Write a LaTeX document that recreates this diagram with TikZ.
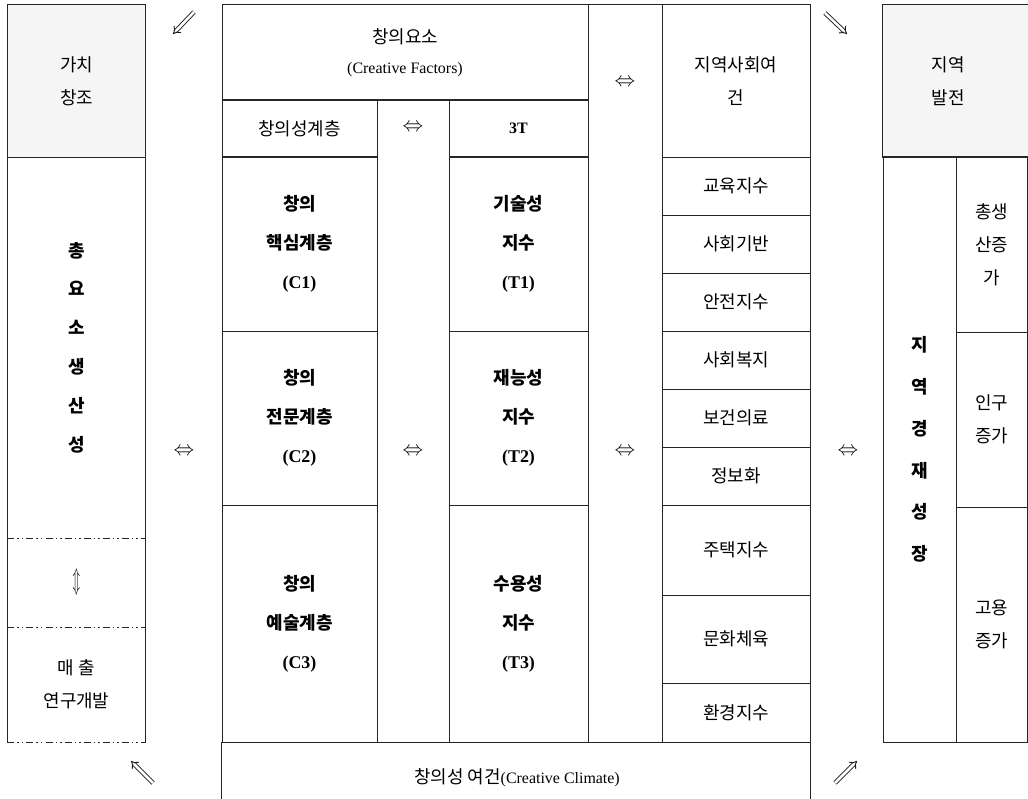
\documentclass[tikz,border=0pt]{standalone}
\usepackage{fontspec}
\usepackage{graphicx}
\setmainfont{Liberation Serif}
\newfontfamily\kr{Noto Sans CJK KR}
\usetikzlibrary{arrows.meta}
\tikzset{
 cell/.style={rectangle, draw=black!85, line width=1bp, inner sep=0pt},
 ln/.style={draw=black!85, line width=1bp},
 dd/.style={ln, dash pattern=on 7bp off 3bp on 1.5bp off 3bp on 1.5bp off 3bp},
 kt/.style={font=\kr\fontsize{18}{33}\selectfont, align=center},
 bt/.style={font=\kr\bfseries\fontsize{18}{39}\selectfont, align=center},
 sym/.style={font=\fontsize{22}{22}\selectfont, inner sep=0pt},
 dblarrow/.style={draw=black!90, double, double distance=2.6bp, line width=0.9bp, -{Implies}},
 shadebox/.style={fill=black!4},
}
\newcommand{\cellbox}[7][]{%
 \pgfmathsetmacro{\cw}{#5-#3}\pgfmathsetmacro{\ch}{#6-#4}%
 \node[cell,#1,minimum width=\cw bp,minimum height=\ch bp] (#2) at ({(#3+#5)/2},{(#4+#6)/2}) {#7};}
\begin{document}
\begin{tikzpicture}[x=1bp,y=-1bp]
\clip (0,0) rectangle (1028,799);
% ---------- left column ----------
\cellbox[shadebox,kt]{vc}{8}{5}{145}{157}{가치\\창조}
\cellbox[draw=none,bt]{tfp}{8}{157}{145}{538}{총\\요\\소\\생\\산\\성}
\cellbox[draw=none,sym]{ud}{8}{538}{145}{627}{\scalebox{0.6}[1.25]{$\Updownarrow$}}
\cellbox[draw=none,kt]{rd}{8}{627}{145}{742}{매 출\\연구개발}
\draw[ln] (vc.south west) -- (rd.south west);
\draw[ln] (vc.south east) -- (rd.south east);
\draw[dd] (tfp.south west) -- (tfp.south east);
\draw[dd] (ud.south west) -- (ud.south east);
\draw[dd] (rd.south west) -- (rd.south east);
% ---------- middle block ----------
\cellbox[kt,font=\kr\fontsize{18}{30}\selectfont]{cf}{222}{5}{588}{100}{창의요소\\{\rmfamily\fontsize{16}{30}\selectfont (Creative Factors)}}
\cellbox[kt]{cl}{222}{100}{377}{157}{창의성계층}
\cellbox{mid}{377}{100}{449}{742}{}
\cellbox[kt]{tt}{449}{100}{588}{157}{\rmfamily\bfseries\fontsize{16}{30}\selectfont 3T}
\cellbox[bt]{c1}{222}{157}{377}{331}{창의\\핵심계층\\{\rmfamily (C1)}}
\cellbox[bt]{c2}{222}{331}{377}{505}{창의\\전문계층\\{\rmfamily (C2)}}
\cellbox[bt]{c3}{222}{505}{377}{742}{창의\\예술계층\\{\rmfamily (C3)}}
\cellbox[bt]{t1}{449}{157}{588}{331}{기술성\\지수\\{\rmfamily (T1)}}
\cellbox[bt]{t2}{449}{331}{588}{505}{재능성\\지수\\{\rmfamily (T2)}}
\cellbox[bt]{t3}{449}{505}{588}{742}{수용성\\지수\\{\rmfamily (T3)}}
\cellbox{col}{588}{5}{662}{742}{}
\node[sym] (e1) at (413,128) {$\Leftrightarrow$};
\node[sym] (e2) at (413,452) {$\Leftrightarrow$};
\node[sym] (e3) at (625,83) {$\Leftrightarrow$};
\node[sym] (e4) at (625,452) {$\Leftrightarrow$};
\node[sym] (e5) at (184,452) {$\Leftrightarrow$};
\node[sym] (e6) at (848,452) {$\Leftrightarrow$};
% ---------- regional conditions ----------
\cellbox[kt]{rc}{662}{5}{810}{157}{지역사회여\\건}
\cellbox[kt]{r1}{662}{157}{810}{215}{교육지수}
\cellbox[kt]{r2}{662}{215}{810}{273}{사회기반}
\cellbox[kt]{r3}{662}{273}{810}{331}{안전지수}
\cellbox[kt]{r4}{662}{331}{810}{389}{사회복지}
\cellbox[kt]{r5}{662}{389}{810}{447}{보건의료}
\cellbox[kt]{r6}{662}{447}{810}{505}{정보화}
\cellbox[kt]{r7}{662}{505}{810}{595}{주택지수}
\cellbox[kt]{r8}{662}{595}{810}{683}{문화체육}
\cellbox[kt]{r9}{662}{683}{810}{742}{환경지수}
% ---------- creative climate ----------
\cellbox[draw=none]{cc}{222}{742}{810}{805}{}
\draw[ln] (cc.north west) -- (cc.south west);
\draw[ln] (cc.north east) -- (cc.south east);
\node[kt] (cct) at (517,778) {창의성 여건{\rmfamily\fontsize{16}{30}\selectfont (Creative Climate)}};
% ---------- right block ----------
\cellbox[draw=none,shadebox]{rdv}{883}{5}{1040}{157}{}
\draw[ln] (rdv.north east) -- (rdv.north west) -- (rdv.south west) -- (rdv.south east);
\node[kt] (rdvt) at (948,81) {지역\\발전};
\cellbox[bt,font=\kr\bfseries\fontsize{18}{42}\selectfont]{grw}{883}{157}{956}{742}{지\\역\\경\\재\\성\\장}
\cellbox[kt]{g1}{956}{157}{1027}{332}{총생\\산증\\가}
\cellbox[kt]{g2}{956}{332}{1027}{507}{인구\\증가}
\cellbox[kt]{g3}{956}{507}{1027}{742}{고용\\증가}
% ---------- diagonal arrows ----------
\coordinate (a1s) at (194,12); \coordinate (a1e) at (173,34);
\coordinate (a2s) at (153,783); \coordinate (a2e) at (131,761);
\coordinate (a3s) at (825,13); \coordinate (a3e) at (847,34);
\coordinate (a4s) at (835,783); \coordinate (a4e) at (857,761);
\draw[dblarrow] (a1s) -- (a1e);
\draw[dblarrow] (a2s) -- (a2e);
\draw[dblarrow] (a3s) -- (a3e);
\draw[dblarrow] (a4s) -- (a4e);
\end{tikzpicture}
\end{document}
